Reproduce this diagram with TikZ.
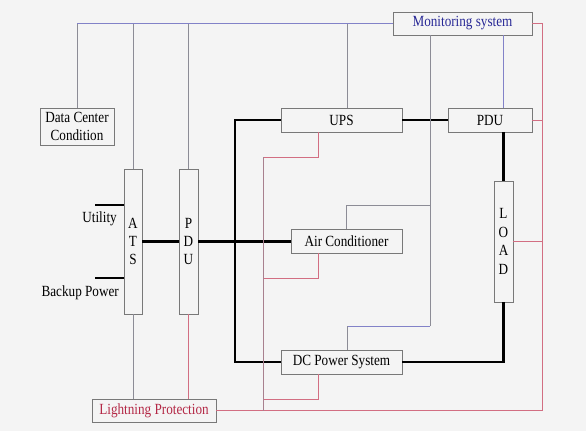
\documentclass[tikz,border=0pt]{standalone}
\usepackage{fontspec}
\setmainfont[FakeStretch=0.85]{Liberation Serif}
\usepackage{tikz}
\usetikzlibrary{positioning}

\definecolor{bgcol}{RGB}{244,244,244}
\definecolor{boxline}{RGB}{120,120,120}
\definecolor{siggray}{RGB}{140,140,150}
\definecolor{monblue}{RGB}{130,130,200}
\definecolor{montext}{RGB}{40,40,150}
\definecolor{lpred}{RGB}{210,110,130}
\definecolor{lptext}{RGB}{180,40,70}

\begin{document}
\begin{tikzpicture}[x=1pt,y=-1pt]

\tikzset{box/.style={draw=boxline, line width=0.8pt, inner sep=0pt,
                     font=\fontsize{15.5}{18}\selectfont, align=center},
         power/.style={line width=2.4pt, black},
         sig/.style={line width=0.8pt, siggray},
         mon/.style={line width=0.8pt, monblue},
         lpl/.style={line width=0.8pt, lpred}}

\fill[bgcol] (0,0) rectangle (586,431);
\useasboundingbox (0,0) rectangle (586,431);

% boxes
\node[box, minimum width=139pt, minimum height=23pt, text=montext] (mon) at (462.5,23.5) {Monitoring system};
\node[box, minimum width=74pt, minimum height=37pt, font=\fontsize{15.5}{17.5}\selectfont] (dcc) at (77,126.5) {Data Center\\Condition};
\node[box, minimum width=18pt, minimum height=145pt] (ats) at (133,241.5) {A\\T\\S};
\node[box, minimum width=19pt, minimum height=145pt] (pdua) at (188.5,241.5) {P\\D\\U};
\node[box, minimum width=121pt, minimum height=24pt] (ups) at (341.5,120) {UPS};
\node[box, minimum width=84pt, minimum height=24pt] (pdub) at (490,120) {PDU};
\node[box, minimum width=111pt, minimum height=24pt] (ac) at (346.5,241) {Air Conditioner};
\node[box, minimum width=19pt, minimum height=121pt, font=\fontsize{15.5}{18.7}\selectfont] (load) at (503.5,241.5) {L\\O\\A\\D};
\node[box, minimum width=121pt, minimum height=24pt] (dc) at (341.5,362) {DC Power System};
\node[box, minimum width=124pt, minimum height=23pt, text=lptext] (lp) at (154,410.5) {Lightning Protection};

% inputs
\node[anchor=east, inner sep=0pt, font=\fontsize{15.5}{18}\selectfont] (util) at (117,219) {Utility};
\node[anchor=east, inner sep=0pt, font=\fontsize{15.5}{18}\selectfont] (bkp) at (119,293) {Backup Power};
\coordinate (utilin) at (95,205);
\coordinate (bkpin) at (95,278);

% helper coordinates
\coordinate (bus) at (235,0);
\coordinate (sx) at (347,0);
\coordinate (mtap) at (430,326);
\coordinate (actap) at (430,205);
\coordinate (gnd) at (542,0);
\coordinate (rx) at (318,0);
\coordinate (r1) at (263,157);
\coordinate (r2) at (263,278);
\coordinate (r3) at (263,399);

% power path
\draw[power] (utilin) -- (utilin -| ats.west);
\draw[power] (bkpin) -- (bkpin -| ats.west);
\draw[power] (ats) -- (pdua);
\draw[power] (pdua.east) -- (pdua.east -| ac.west);
\draw[power] (ups.west) -| (bus |- dc.west) -- (dc.west);
\draw[power] (ups) -- (pdub);
\draw[power] (load.north |- pdub.south) -- (load.north);
\draw[power] (load.south) |- (dc.east);

% monitoring
\draw[sig] (dcc.north) -- (dcc.north |- mon.west);
\draw[mon] (dcc.north |- mon.west) -- (mon.west);
\draw[sig] (ats.north) -- (ats.north |- mon.west);
\draw[sig] (pdua.north) -- (pdua.north |- mon.west);
\draw[sig] (sx |- ups.north) -- (sx |- mon.west);
\draw[sig] (mon.south -| mtap) -- (mtap);
\draw[mon] (mtap) -- (sx |- mtap);
\draw[sig] (sx |- mtap) -- (sx |- dc.north);
\draw[sig] (ac.north) |- (actap);
\draw[mon] (pdub.north -| load.north) -- (mon.south -| load.north);

% lightning protection
\draw[sig] (ats.south) -- (ats.south |- lp.north);
\draw[lpl] (pdua.south) -- (pdua.south |- lp.north);
\draw[lpl] (lp.east) -| (gnd |- mon.east) -- (mon.east);
\draw[lpl] (pdub.east) -- (pdub.east -| gnd);
\draw[lpl] (load.east) -- (load.east -| gnd);
\draw[lpl] (rx |- ups.south) |- (r1);
\draw[lpl] (rx |- ac.south) |- (r2);
\draw[lpl] (rx |- dc.south) |- (r3);
\draw[lpl, draw=siggray!60!lpred] (r1) -- (r1 |- lp.east);

\end{tikzpicture}
\end{document}
